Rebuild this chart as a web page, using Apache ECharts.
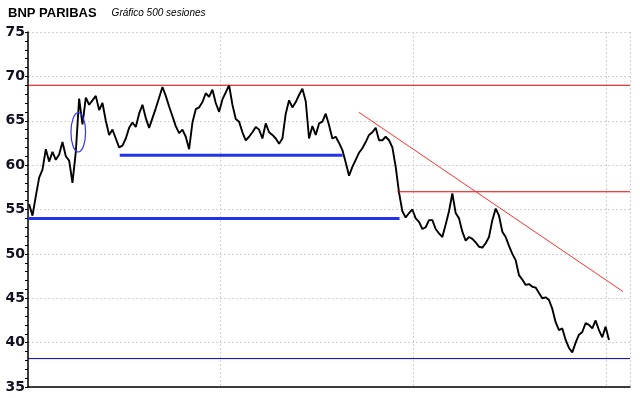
<!DOCTYPE html>
<html>
<head>
<meta charset="utf-8">
<script src="https://cdn.jsdelivr.net/npm/echarts@6/dist/echarts.min.js"></script>
<style>
  html, body { margin: 0; padding: 0; background: #fff; }
  #chart { width: 640px; height: 398px; }
</style>
</head>
<body>
<div id="chart"></div>
<script>
// closing prices, sampled about every 3 sessions of the 500
var closes = [
  55.6, 54.3, 56.5, 58.6, 59.5, 61.8, 60.4, 61.5, 60.6, 61.2,
  62.6, 61.0, 60.5, 58.0, 61.5, 67.5, 64.6, 67.6, 66.8, 67.3,
  67.8, 66.2, 67.0, 65.0, 63.4, 64.0, 63.0, 62.0, 62.2, 63.0,
  64.2, 64.8, 64.3, 65.8, 66.8, 65.3, 64.2, 65.3, 66.4, 67.6,
  68.8, 67.8, 66.6, 65.5, 64.4, 63.6, 64.0, 63.2, 61.8, 64.8,
  66.3, 66.5, 67.1, 68.1, 67.7, 68.5, 67.0, 66.0, 67.4, 68.2,
  69.0, 66.8, 65.2, 64.9, 63.7, 62.8, 63.2, 63.7, 64.3, 64.0,
  63.0, 64.7, 63.7, 63.4, 63.0, 62.4, 63.0, 65.8, 67.3, 66.5,
  67.1, 67.9, 68.6, 67.2, 63.0, 64.4, 63.4, 64.7, 64.9, 65.8,
  64.5, 63.0, 63.2, 62.5, 61.7, 60.3, 58.8, 59.8, 60.6, 61.4,
  61.9, 62.6, 63.4, 63.7, 64.2, 62.8, 62.8, 63.2, 62.8, 62.0,
  59.8, 56.9, 54.8, 54.1, 54.6, 55.0, 54.0, 53.6, 52.8, 53.0,
  53.8, 53.8, 52.8, 52.3, 51.9, 53.3, 54.8, 56.8, 54.6, 54.0,
  52.5, 51.5, 51.9, 51.7, 51.3, 50.8, 50.7, 51.2, 51.9, 53.8,
  55.1, 54.3, 52.5, 51.9, 50.9, 50.0, 49.3, 47.6, 47.1, 46.5,
  46.6, 46.3, 46.2, 45.6, 45.0, 45.1, 44.8, 43.8, 42.3, 41.4,
  41.6, 40.3, 39.4, 38.9, 40.0, 40.9, 41.2, 42.2, 42.0, 41.6,
  42.5, 41.4, 40.6, 41.8, 40.3
];
var sessionStep = 2.87;

var yTicks = [35, 40, 45, 50, 55, 60, 65, 70, 75];
var lastSession = 518.5;

// drawn levels: [fromSession, toSession, price]
var resistance69 = [0, lastSession, 69];
var floor382 = [0, lastSession, 38.2];
var support61 = [79, 271, 61.1];
var support54 = [0, 320, 54.0];
var level57 = [318, lastSession, 57.0];
// downtrend: [session, price] at both ends
var trendLine = [[285, 65.95], [512.5, 45.75]];
// ellipse: centre session, centre price, half width (sessions), half height (price)
var ellipseMark = [43.3, 63.7, 6.3, 2.22];

var priceData = closes.map(function (v, i) { return [1 + i * sessionStep, v]; });

function segment(s) {
  return [[s[0], s[2]], [s[1], s[2]]];
}

function levelSeries(s, color, width) {
  return {
    type: 'line',
    data: segment(s),
    symbol: 'none',
    silent: true,
    lineStyle: { color: color, width: width },
    z: 3
  };
}

var myChart = echarts.init(document.getElementById('chart'));

var option = {
  animation: false,
  backgroundColor: '#fff',
  title: {
    left: 8,
    top: 4,
    padding: 0,
    text: '{a|BNP PARIBAS}   {b|Gráfico 500 sesiones}',
    textStyle: {
      rich: {
        a: { fontFamily: 'Liberation Sans', fontWeight: 'bold', fontSize: 13, color: '#000' },
        b: { fontFamily: 'Liberation Sans', fontStyle: 'italic', fontWeight: 'normal', fontSize: 10, color: '#000' }
      }
    }
  },
  grid: { left: 28, right: 10, top: 32, bottom: 11, containLabel: false },
  xAxis: {
    type: 'value',
    min: 0,
    max: lastSession,
    interval: 166,
    axisLabel: { show: false },
    axisTick: { show: false },
    axisLine: { show: true, onZero: false, lineStyle: { color: '#000', width: 1.5 } },
    splitLine: { show: true, lineStyle: { color: '#d4cfd8', type: [2, 2], width: 1 } }
  },
  yAxis: {
    type: 'value',
    min: yTicks[0],
    max: yTicks[yTicks.length - 1],
    interval: 5,
    axisLine: { show: true, lineStyle: { color: '#000', width: 1.5 } },
    axisTick: { show: true, inside: false, length: 3, lineStyle: { color: '#000' } },
    minorTick: { show: true, splitNumber: 5, length: 3, lineStyle: { color: '#000' } },
    axisLabel: {
      margin: 3,
      fontFamily: 'DejaVu Sans',
      fontWeight: 'bold',
      fontSize: 14,
      color: '#111122'
    },
    splitLine: { show: true, lineStyle: { color: '#d4cfd8', type: [2, 2], width: 1 } }
  },
  series: [
    {
      type: 'line',
      data: priceData,
      symbol: 'none',
      lineStyle: { color: '#000', width: 1.9 },
      z: 2
    },
    levelSeries(resistance69, '#d40000', 1),
    levelSeries(floor382, '#0000a8', 1),
    levelSeries(support61, '#2233ee', 3),
    levelSeries(support54, '#2233ee', 3),
    levelSeries(level57, '#ee0000', 1.2),
    {
      type: 'line',
      data: trendLine,
      symbol: 'none',
      silent: true,
      lineStyle: { color: '#ff3030', width: 1 },
      z: 3
    },
    {
      type: 'custom',
      silent: true,
      data: [ellipseMark],
      z: 4,
      renderItem: function (params, api) {
        var c = api.coord([api.value(0), api.value(1)]);
        var e = api.coord([api.value(0) + api.value(2), api.value(1) + api.value(3)]);
        var rx = Math.abs(e[0] - c[0]);
        var ry = Math.abs(c[1] - e[1]);
        var d = 'M' + (c[0] - rx) + ' ' + c[1] +
          ' A' + rx + ' ' + ry + ' 0 1 0 ' + (c[0] + rx) + ' ' + c[1] +
          ' A' + rx + ' ' + ry + ' 0 1 0 ' + (c[0] - rx) + ' ' + c[1] + ' Z';
        return {
          type: 'path',
          shape: { pathData: d },
          style: { fill: 'none', stroke: '#3333ee', lineWidth: 1.2 }
        };
      }
    }
  ]
};

myChart.setOption(option);
</script>
</body>
</html>
